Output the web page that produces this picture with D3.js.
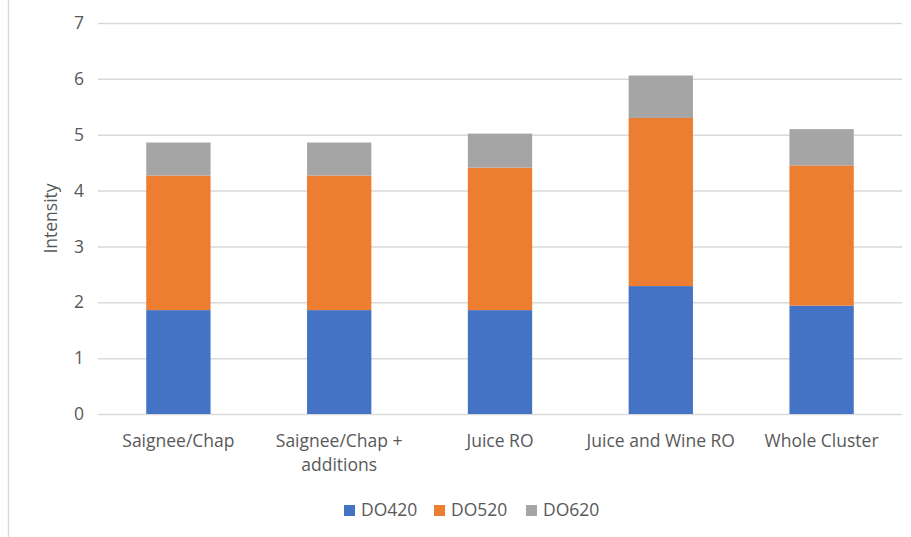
<!DOCTYPE html>
<html>
<head>
<meta charset="utf-8">
<script src="https://cdn.jsdelivr.net/npm/d3@7"></script>
<style>
  body { margin: 0; background: #fff; }
  text { font-family: "Open Sans", "Noto Sans", sans-serif; fill: #595959; }
</style>
</head>
<body>
<div class="chart"></div>
<script>
// DATA ------------------------------------

const categories = [
  ["Saignee/Chap"],
  ["Saignee/Chap +", "additions"],
  ["Juice RO"],
  ["Juice and Wine RO"],
  ["Whole Cluster"]
];
const seriesNames = ["DO420", "DO520", "DO620"];
const do420 = [1.86, 1.86, 1.86, 2.29, 1.94];
const do520 = [2.41, 2.41, 2.55, 3.01, 2.51];
const do620 = [0.59, 0.59, 0.61, 0.76, 0.65];
const yTicks = [0, 1, 2, 3, 4, 5, 6, 7];
const colors = ["#4472C4", "#ED7D31", "#A5A5A5"];

// CHART INIT ------------------------------

const totalWidth = 911;
const totalHeight = 537;
const margin = { top: 23, left: 98, right: 9, bottom: 123 };
const width = totalWidth - margin.left - margin.right,
  height = totalHeight - margin.top - margin.bottom;
const fontSize = 17.5;

const svg = d3
  .select(".chart")
  .append("svg")
  .attr("width", totalWidth)
  .attr("height", totalHeight);

// left frame edge
svg
  .append("line")
  .attr("x1", 8.5)
  .attr("x2", 8.5)
  .attr("y1", 0)
  .attr("y2", totalHeight)
  .attr("stroke", "#d9d9d9")
  .attr("stroke-width", 1.5);

const g = svg
  .append("g")
  .attr("transform", "translate(" + margin.left + "," + margin.top + ")");

const data = categories.map((c, i) => ({
  key: i,
  label: c,
  DO420: do420[i],
  DO520: do520[i],
  DO620: do620[i]
}));

const xScale = d3
  .scaleBand()
  .domain(data.map((d) => d.key))
  .range([0, width])
  .paddingInner(0.6)
  .paddingOuter(0.3);

const yScale = d3.scaleLinear().domain([0, 7]).range([height, 0]);

// gridlines + y labels
const yAxis = d3
  .axisLeft(yScale)
  .tickValues(yTicks)
  .tickSize(-width)
  .tickPadding(14)
  .tickFormat(d3.format("d"));

g.append("g")
  .attr("class", "axis y-axis")
  .call(yAxis)
  .call((a) => a.select(".domain").remove())
  .call((a) =>
    a.selectAll("line").attr("stroke", "#d9d9d9").attr("stroke-width", 1.5)
  )
  .call((a) =>
    a.selectAll("text").attr("font-size", fontSize).attr("fill", "#595959")
  );

// stacked bars
const stacked = d3.stack().keys(seriesNames)(data);

g.selectAll(".series")
  .data(stacked)
  .enter()
  .append("g")
  .attr("class", "series")
  .attr("fill", (d, i) => colors[i])
  .selectAll("rect")
  .data((d) => d)
  .enter()
  .append("rect")
  .attr("x", (d) => xScale(d.data.key))
  .attr("y", (d) => yScale(d[1]))
  .attr("width", xScale.bandwidth())
  .attr("height", (d) => yScale(d[0]) - yScale(d[1]));

// x labels
const xLabels = g
  .selectAll(".x-label")
  .data(data)
  .enter()
  .append("text")
  .attr("class", "x-label")
  .attr("text-anchor", "middle")
  .attr("font-size", fontSize)
  .attr("y", height + 33);

xLabels
  .selectAll("tspan")
  .data((d) => d.label.map((l) => ({ l, key: d.key })))
  .enter()
  .append("tspan")
  .attr("x", (d) => xScale(d.key) + xScale.bandwidth() / 2)
  .attr("dy", (d, i) => (i === 0 ? 0 : 24))
  .text((d) => d.l);

// y axis title
svg
  .append("text")
  .attr("transform", "translate(57," + (margin.top + height / 2) + ") rotate(-90)")
  .attr("text-anchor", "middle")
  .attr("font-size", fontSize)
  .text("Intensity");

// legend
const legendX = [344, 434, 526];
const legend = svg
  .selectAll(".legend")
  .data(seriesNames)
  .enter()
  .append("g")
  .attr("class", "legend")
  .attr("transform", (d, i) => "translate(" + legendX[i] + ",505)");

legend
  .append("rect")
  .attr("width", 11)
  .attr("height", 11)
  .attr("fill", (d, i) => colors[i]);

legend
  .append("text")
  .attr("x", 17)
  .attr("y", 11)
  .attr("font-size", fontSize)
  .text((d) => d);
</script>
</body>
</html>
